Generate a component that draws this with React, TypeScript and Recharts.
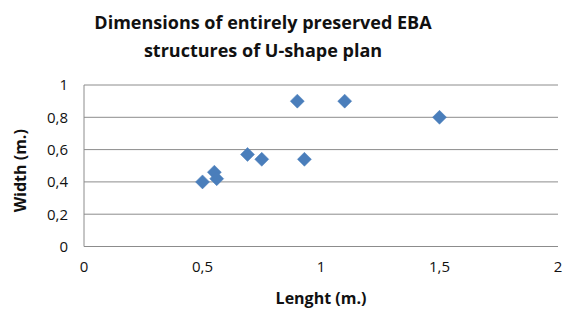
import React from 'react';
import { ScatterChart, Scatter, XAxis, YAxis, ZAxis, CartesianGrid, Label } from 'recharts';

const lengths = [0.5, 0.55, 0.56, 0.69, 0.75, 0.9, 0.93, 1.1, 1.5];
const widths = [0.4, 0.46, 0.42, 0.57, 0.54, 0.9, 0.54, 0.9, 0.8];
const xTicks = [0, 0.5, 1, 1.5, 2];
const yTicks = [0, 0.2, 0.4, 0.6, 0.8, 1];
const titleLines = ['Dimensions of entirely preserved EBA', 'structures of U-shape plan'];

const data = lengths.map((x, i) => ({ x, y: widths[i] }));
const fmt = (v: number) => String(v).replace('.', ',');
const FONT = '"Open Sans", Lato, sans-serif';

const Diamond = (props: any) => {
  const { cx, cy } = props;
  const r = 7;
  return (
    <polygon
      points={`${cx},${cy - r} ${cx + r},${cy} ${cx},${cy + r} ${cx - r},${cy}`}
      fill="#4a7ebb"
      stroke="#4a7ebb"
      strokeWidth={0.5}
    />
  );
};

const YTitle = (props: any) => {
  const vb = props.viewBox || {};
  const cx = 20;
  const cy = (vb.y ?? 85) + (vb.height ?? 161.5) / 2 + 5;
  return (
    <text
      x={cx}
      y={cy}
      transform={`rotate(-90 ${cx} ${cy})`}
      textAnchor="middle"
      dominantBaseline="central"
      fill="#111"
      fontSize={16}
      fontWeight={700}
      fontFamily={FONT}
    >
      Width (m.)
    </text>
  );
};

export default function App() {
  return (
    <div style={{ position: 'absolute', left: 0, top: 0, width: 563, height: 310, background: '#fff', fontFamily: FONT }}>
      <div style={{ position: 'absolute', left: 0, width: 526, top: 8, textAlign: 'center', fontWeight: 700, fontSize: 18, lineHeight: '28px', color: '#111' }}>
        {titleLines.map((t) => (
          <div key={t}>{t}</div>
        ))}
      </div>
      <ScatterChart width={563} height={310} margin={{ top: 85, right: 5, left: 34, bottom: 0 }}>
        <CartesianGrid horizontal vertical={false} stroke="#8c8c8c" strokeWidth={1} />
        <XAxis
          type="number"
          dataKey="x"
          domain={[0, 2]}
          ticks={xTicks}
          tickFormatter={fmt}
          height={63.5}
          tickLine={false}
          tickSize={0}
          tickMargin={15}
          axisLine={{ stroke: '#8c8c8c' }}
          tick={{ fill: '#111', fontSize: 15, fontFamily: FONT }}
        >
          <Label value="Lenght (m.)" position="insideBottom" offset={6} fill="#111" fontSize={16} fontWeight={700} fontFamily={FONT} />
        </XAxis>
        <YAxis
          type="number"
          dataKey="y"
          domain={[0, 1]}
          ticks={yTicks}
          tickFormatter={fmt}
          width={50}
          tickLine={false}
          tickSize={0}
          tickMargin={16}
          axisLine={{ stroke: '#8c8c8c' }}
          tick={{ fill: '#111', fontSize: 15, fontFamily: FONT }}
        >
          <Label content={<YTitle />} />
        </YAxis>
        <ZAxis range={[100, 100]} />
        <Scatter data={data} shape={<Diamond />} isAnimationActive={false} />
      </ScatterChart>
    </div>
  );
}
